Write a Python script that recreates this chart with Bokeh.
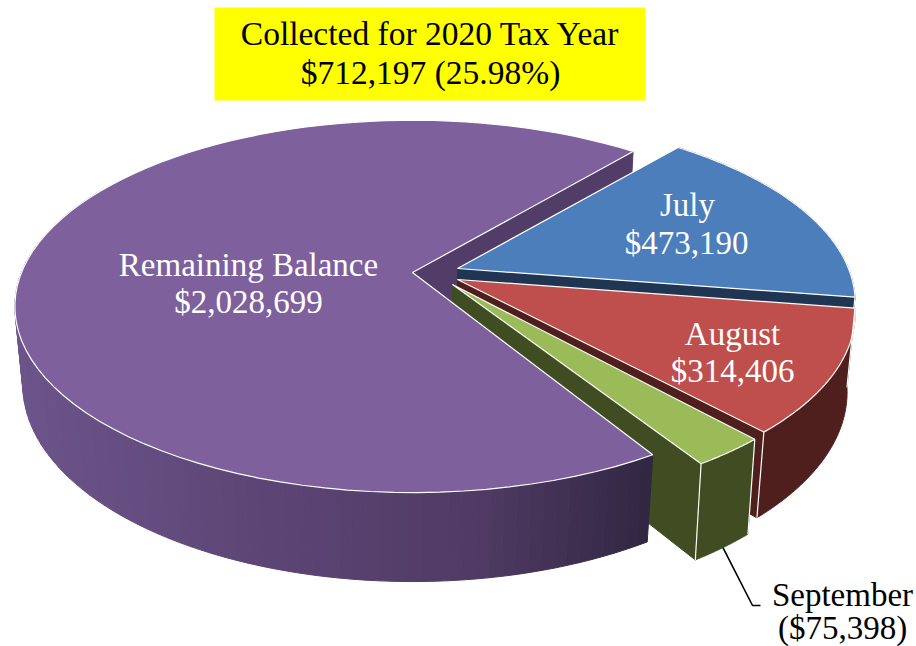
import math
from bokeh.plotting import figure
from bokeh.models import Range1d, ColumnDataSource
from bokeh.core.properties import value
from bokeh.embed import file_html
from bokeh.resources import INLINE

# ---- data ----
slice_names = ["July", "August", "September", "Remaining Balance"]
slice_values = [473190, 314406, 75398, 2028699]
value_labels = ["$473,190", "$314,406", "($75,398)", "$2,028,699"]
title_lines = ["Collected for 2020 Tax Year", "$712,197 (25.98%)"]

# ---- style ----
top_colors = ["#4b7ebb", "#be4f4d", "#9bbb59", "#7e609c"]
side_colors = ["#1f3552", "#4f1f1e", "#404d22", None]
cut_colors = ["#1f3552", "#4f1f1e", "#404d22", "#523c68"]
purple_stops = [(0.0, (0x6c, 0x54, 0x8a)), (0.45, (0x5a, 0x43, 0x72)), (0.72, (0x50, 0x3b, 0x64)), (1.0, (0x30, 0x26, 0x41))]
FONT = "Liberation Serif"
FS = "33px"
EDGE = "white"

# ---- projection of the tilted pie ----
START = 40.0
A, B, K, DROP, M = 391.0, 180.0, 0.182, 79.0, 0.02
centres = [(457, 268), (457, 279), (452, 284), (412, 272)]
extra_drop = [0, 0, 8, 0]
angle_nudge = [(0, 0), (0, -0.8), (0, 0), (1.3, 0)]
OUTER_LIMIT = 300.0


def project(c, theta, r, depth):
    X = r * math.sin(math.radians(theta))
    Y = r * math.cos(math.radians(theta))
    w = 1 + K * Y + M * depth
    return c[0] + A * X / w, c[1] + (-B * Y + (DROP + c[2]) * depth) / w


def arc(c, t0, t1, depth, n=90):
    return [project(c, t0 + (t1 - t0) * i / n, 1, depth) for i in range(n + 1)]


def purple_shade(x):
    t = max(0.0, min(1.0, (x - 24) / (650 - 24)))
    for (a, ca), (b, cb) in zip(purple_stops, purple_stops[1:]):
        if t <= b:
            f = (t - a) / (b - a)
            return "#%02x%02x%02x" % tuple(round(p + (q - p) * f) for p, q in zip(ca, cb))
    return "#302641"


total = sum(slice_values)
angles = []
t = START
for v, (n0, n1) in zip(slice_values, angle_nudge):
    angles.append((t + n0, t + 360.0 * v / total + n1))
    t += 360.0 * v / total
frames = [(cx, cy, d) for (cx, cy), d in zip(centres, extra_drop)]

p = figure(width=916, height=646, output_backend="svg", toolbar_location=None,
           x_range=Range1d(0, 916), y_range=Range1d(646, 0), min_border=0,
           outline_line_color=None, background_fill_color="white")
p.axis.visible = False
p.grid.visible = False


def poly(pts, fill, line=None, width=1.0):
    p.patch([q[0] for q in pts], [q[1] for q in pts], fill_color=fill,
            line_color=line or fill, line_width=width)


def cut_face(i):
    c = frames[i]
    t1 = angles[i][1]
    poly([project(c, t1, 0, 0), project(c, t1, 1, 0),
          project(c, t1, 1, 1), project(c, t1, 0, 1)], cut_colors[i])


def edge_line(i, theta):
    c = frames[i]
    a = project(c, theta, 1, 0)
    b = project(c, theta, 1, 1)
    p.line([a[0], b[0]], [a[1], b[1]], line_color=EDGE, line_width=1.2)


def outer(i):
    c = frames[i]
    t0, t1 = angles[i]
    t1 = min(t1, OUTER_LIMIT)
    top = arc(c, t0, t1, 0)
    bot = arc(c, t0, t1, 1)
    if side_colors[i]:
        poly(top + bot[::-1], side_colors[i])
    else:
        xs, ys, cols = [], [], []
        for j in range(len(top) - 1):
            q = [top[j], top[j + 1], bot[j + 1], bot[j]]
            xs.append([u[0] for u in q])
            ys.append([u[1] for u in q])
            cols.append(purple_shade(0.5 * (bot[j][0] + bot[j + 1][0])))
        src = ColumnDataSource(dict(xs=xs, ys=ys, c=cols))
        p.patches("xs", "ys", source=src, fill_color="c", line_color="c", line_width=1.0)


def top_face(i):
    c = frames[i]
    t0, t1 = angles[i]
    poly([project(c, t0, 0, 0)] + arc(c, t0, t1, 0), top_colors[i], EDGE, 1.2)


# painter's order: far cut of the big slice, then the three small slices, then the big slice
cut_face(3)
for i in (0, 1, 2):
    outer(i)
    cut_face(i)
    top_face(i)
    edge_line(i, angles[i][1])
edge_line(1, angles[1][0])
edge_line(2, angles[2][0])
outer(3)
top_face(3)

# leader from the September slice to its label
mid = 0.5 * (angles[2][0] + angles[2][1])
lead0 = project(frames[2], mid, 1, 1)
p.line([lead0[0], 752, 760], [lead0[1], 605, 605], line_color="black", line_width=1.6)

# title box
p.quad(left=[214], right=[645], top=[7], bottom=[100], fill_color="#ffff00", line_color=None)


def label(x, y, s, color, size=FS):
    p.text([x], [y], text=[s], text_font=value(FONT), text_font_size=value(size),
           text_color=color, text_align="center", text_baseline="middle")


label(430, 33, title_lines[0], "black", "33.5px")
label(430, 72, title_lines[1], "black", "33.5px")
label(248, 264, slice_names[3], "white")
label(248, 301, value_labels[3], "white")
label(687, 204, slice_names[0], "white")
label(686, 242, value_labels[0], "white")
label(732, 333, slice_names[1], "white")
label(732, 370, value_labels[1], "white")
label(842, 594, slice_names[2], "black")
label(842, 627, value_labels[2], "black")

open("out.html", "w").write(file_html(p, INLINE))
